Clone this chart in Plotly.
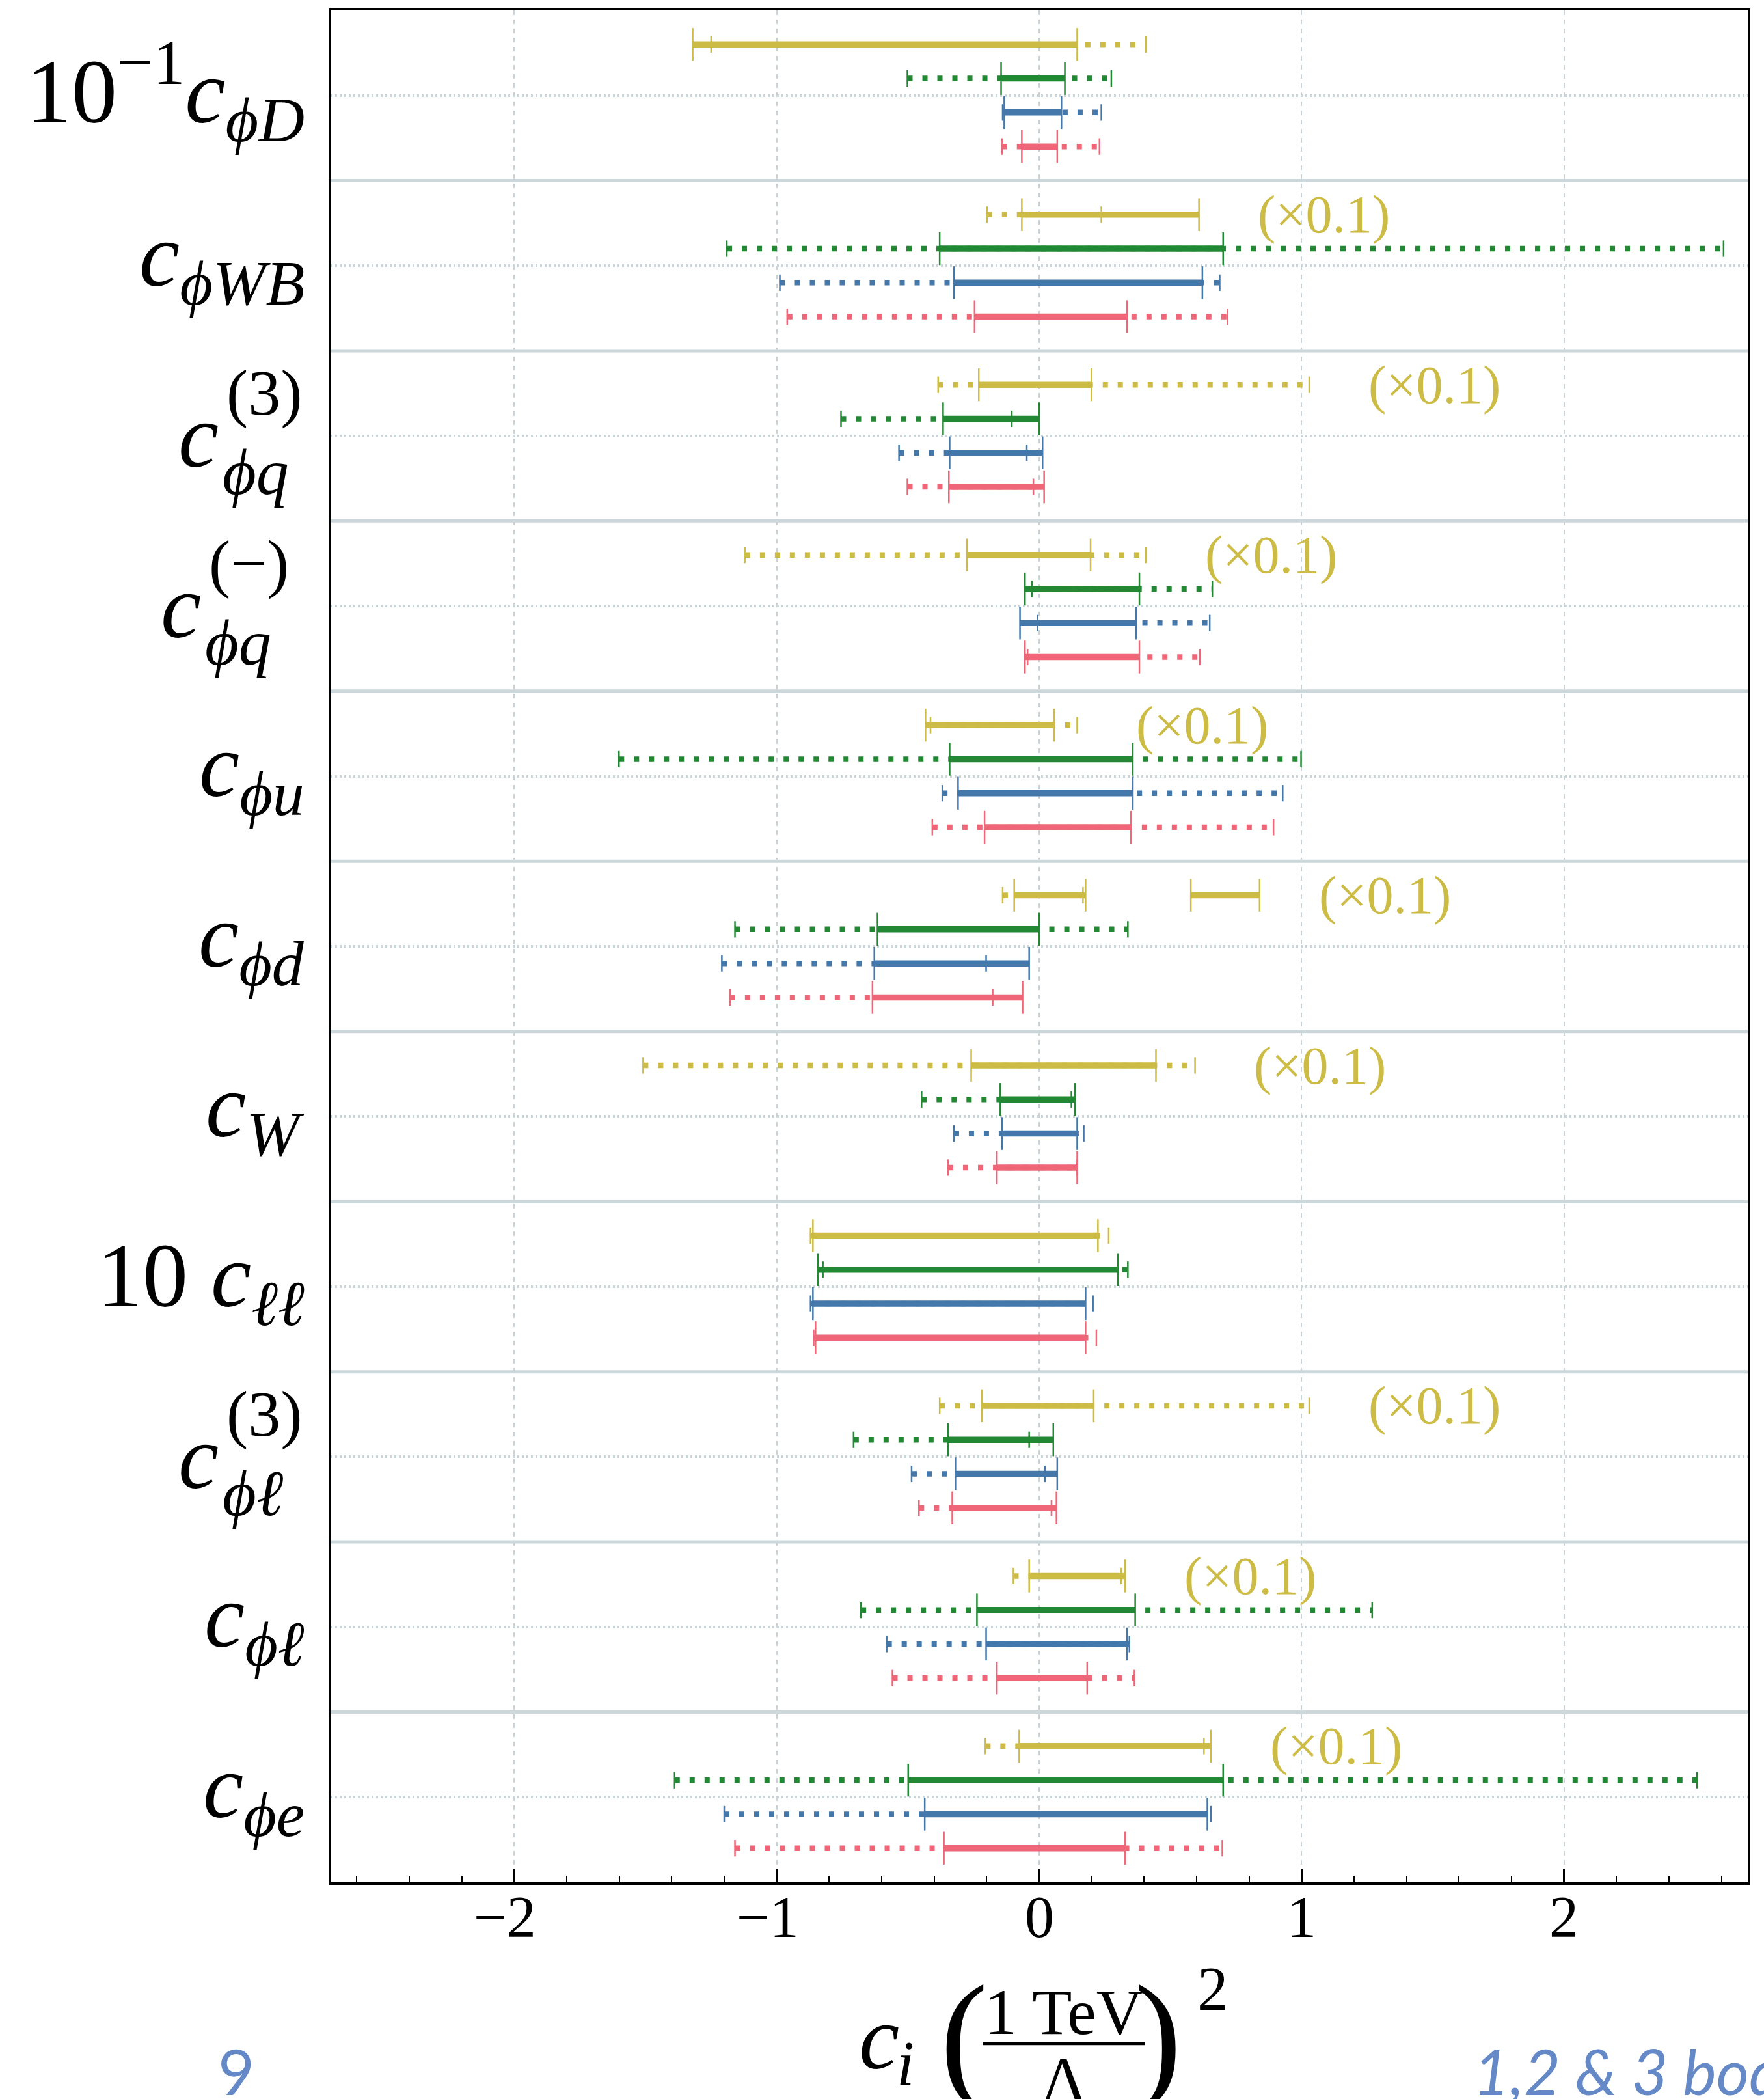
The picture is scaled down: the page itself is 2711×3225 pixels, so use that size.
import plotly.graph_objects as go

# ---------------------------------------------------------------- data
# Wilson coefficients, top to bottom
coefficients = ["cphiD", "cphiWB", "cphiq3", "cphiqm", "cphiu", "cphid",
                "cW", "cll", "cphil3", "cphil", "cphie"]

# gold series (x0.1 where flagged)
gold_solid_lo = [-1.320, -0.066, -0.230, -0.275, -0.433, -0.095, -0.259, -0.862, -0.218, -0.038, -0.076]
gold_solid_hi = [0.145, 0.609, 0.199, 0.196, 0.057, 0.177, 0.445, 0.224, 0.208, 0.328, 0.654]
gold_dot_lo = [-1.250, -0.199, -0.385, -1.121, -0.414, -0.139, -1.509, -0.871, -0.379, -0.098, -0.205]
gold_dot_hi = [0.407, 0.237, 1.029, 0.407, 0.145, 0.167, 0.594, 0.265, 1.029, 0.313, 0.628]
gold_extra_lo = [None, None, None, None, None, 0.578, None, None, None, None, None]
gold_extra_hi = [None, None, None, None, None, 0.840, None, None, None, None, None]
gold_scaled = [False, True, True, True, True, True, True, False, True, True, True]

# green series
green_solid_lo = [-0.145, -0.379, -0.366, -0.054, -0.341, -0.616, -0.148, -0.843, -0.347, -0.237, -0.499]
green_solid_hi = [0.098, 0.701, 0.000, 0.382, 0.357, 0.000, 0.136, 0.300, 0.054, 0.366, 0.701]
green_dot_lo = [-0.502, -1.190, -0.755, -0.028, -1.601, -1.159, -0.448, -0.824, -0.707, -0.679, -1.389]
green_dot_hi = [0.275, 2.608, -0.104, 0.660, 0.998, 0.338, 0.123, 0.338, -0.038, 1.269, 2.507]

# blue series
blue_solid_lo = [-0.133, -0.325, -0.341, -0.073, -0.309, -0.628, -0.142, -0.862, -0.319, -0.202, -0.436]
blue_solid_hi = [0.085, 0.622, 0.013, 0.369, 0.357, -0.038, 0.145, 0.177, 0.069, 0.335, 0.641]
blue_dot_lo = [-0.139, -0.988, -0.534, -0.006, -0.369, -1.209, -0.325, -0.871, -0.486, -0.581, -1.200]
blue_dot_hi = [0.237, 0.688, -0.047, 0.650, 0.928, -0.202, 0.170, 0.205, 0.022, 0.344, 0.654]

# red series
red_solid_lo = [-0.066, -0.246, -0.344, -0.054, -0.208, -0.635, -0.161, -0.852, -0.331, -0.161, -0.363]
red_solid_hi = [0.069, 0.335, 0.019, 0.382, 0.350, -0.063, 0.145, 0.177, 0.066, 0.183, 0.328]
red_dot_lo = [-0.142, -0.960, -0.502, -0.044, -0.407, -1.178, -0.347, -0.859, -0.458, -0.559, -1.159]
red_dot_hi = [0.230, 0.717, -0.022, 0.612, 0.893, -0.177, 0.145, 0.218, 0.047, 0.363, 0.698]

x_ticks = [-2, -1, 0, 1, 2]
x_ticktext = ["−2", "−1", "0", "1", "2"]

# y-axis labels: (main text, superscript above subscript, stacked subscript)
label_main = ["10<sup>−1</sup><i>c<sub>ϕD</sub></i>", "<i>c<sub>ϕWB</sub></i>", None, None,
              "<i>c<sub>ϕu</sub></i>", "<i>c<sub>ϕd</sub></i>", "<i>c<sub>W</sub></i>",
              "10 <i>c<sub>ℓℓ</sub></i>", None, "<i>c<sub>ϕℓ</sub></i>", "<i>c<sub>ϕe</sub></i>"]
label_sup = [None, None, "(3)", "(−)", None, None, None, None, "(3)", None, None]
label_sub = [None, None, "ϕq", "ϕq", None, None, None, None, "ϕℓ", None, None]

# ---------------------------------------------------------------- style
W, H = 2711, 3225
ML, MR, MT, MB = 508, 25, 14, 333
PW, PH = W - ML - MR, H - MT - MB
SERIF = "Liberation Serif, DejaVu Serif, serif"
COLORS = {"gold": "#CCBB44", "green": "#228833", "blue": "#4477AA", "red": "#EE6677"}
ROWS_PER_GROUP = 5
n = len(coefficients)


def px_x(p):
    return (p - ML) / PW


def px_y(p):
    return (H - MB - p) / PH


def row_y(g, k):
    return -(ROWS_PER_GROUP * g + k + 1)


series = [
    ("gold", gold_solid_lo, gold_solid_hi, gold_dot_lo, gold_dot_hi),
    ("green", green_solid_lo, green_solid_hi, green_dot_lo, green_dot_hi),
    ("blue", blue_solid_lo, blue_solid_hi, blue_dot_lo, blue_dot_hi),
    ("red", red_solid_lo, red_solid_hi, red_dot_lo, red_dot_hi),
]

fig = go.Figure()

# group separators (thick pale lines), drawn as a trace so they sit above the grid
sep_x, sep_y = [], []
for g in range(1, n):
    sep_x += [-2.7, 2.7, None]
    sep_y += [-ROWS_PER_GROUP * g, -ROWS_PER_GROUP * g, None]
fig.add_trace(go.Scatter(x=sep_x, y=sep_y, mode="lines",
                         line=dict(color="#ccd7db", width=5),
                         hoverinfo="skip", showlegend=False, cliponaxis=True))


def add_intervals(los, his, ys, color, solid):
    xs, yy, cx, cy = [], [], [], []
    for lo, hi, y in zip(los, his, ys):
        if lo is None or hi is None:
            continue
        xs += [lo, hi, None]
        yy += [y, y, None]
        cx += [lo, hi]
        cy += [y, y]
    if solid:
        line = dict(color=color, width=9.5)
        cap = 36
    else:
        line = dict(color=color, width=8.5, dash="8px,15px")
        cap = 18
    fig.add_trace(go.Scatter(x=xs, y=yy, mode="lines", line=line,
                             hoverinfo="skip", showlegend=False))
    fig.add_trace(go.Scatter(x=cx, y=cy, mode="markers",
                             marker=dict(symbol="line-ns", size=cap,
                                         line=dict(color=color, width=2.5)),
                             hoverinfo="skip", showlegend=False))


for k, (name, s_lo, s_hi, d_lo, d_hi) in enumerate(series):
    ys = [row_y(g, k) for g in range(n)]
    add_intervals(d_lo, d_hi, ys, COLORS[name], solid=False)
    add_intervals(s_lo, s_hi, ys, COLORS[name], solid=True)
    if name == "gold":
        add_intervals(gold_extra_lo, gold_extra_hi, ys, COLORS[name], solid=True)

shapes = []
annotations = []

# "(x0.1)" tags next to the rescaled gold intervals
for g in range(n):
    if not gold_scaled[g]:
        continue
    right = max(v for v in (gold_solid_hi[g], gold_dot_hi[g], gold_extra_hi[g]) if v is not None)
    annotations.append(dict(x=right + 0.22, y=row_y(g, 0), xref="x", yref="y",
                            text="(×0.1)", showarrow=False, xanchor="left", yanchor="middle",
                            font=dict(family=SERIF, size=82, color=COLORS["gold"])))

# x tick labels
for v, t in zip(x_ticks, x_ticktext):
    annotations.append(dict(x=v, y=px_y(2946), xref="x", yref="paper", text=t,
                            showarrow=False, xanchor="center", yanchor="middle",
                            xshift=-14 if t.startswith("−") else 0,
                            font=dict(family=SERIF, size=90, color="black")))

# coefficient labels
for g in range(n):
    yc = -(ROWS_PER_GROUP * g + 2.5)
    if label_main[g] is not None:
        annotations.append(dict(x=px_x(470), y=yc, xref="paper", yref="y",
                                text=label_main[g], showarrow=False,
                                xanchor="right", yanchor="middle", yshift=7,
                                font=dict(family=SERIF, size=140, color="black")))
    else:
        c_right = 311 if label_sup[g] == "(−)" else 338
        annotations.append(dict(x=px_x(c_right), y=yc, xref="paper", yref="y",
                                text="<i>c</i>", showarrow=False,
                                xanchor="right", yanchor="middle", yshift=0,
                                font=dict(family=SERIF, size=140, color="black")))
        annotations.append(dict(x=px_x(c_right + 8), y=yc, xref="paper", yref="y",
                                text=label_sup[g], showarrow=False,
                                xanchor="left", yanchor="middle", yshift=66,
                                font=dict(family=SERIF, size=100, color="black")))
        annotations.append(dict(x=px_x(c_right + 2), y=yc, xref="paper", yref="y",
                                text="<i>" + label_sub[g] + "</i>", showarrow=False,
                                xanchor="left", yanchor="middle", yshift=-56,
                                font=dict(family=SERIF, size=100, color="black")))


# x-axis title: c_i (1 TeV / Lambda)^2
def title_text(txt, x, y, size, anchor="center", italic=False):
    annotations.append(dict(x=px_x(x), y=px_y(y), xref="paper", yref="paper",
                            text=("<i>%s</i>" % txt) if italic else txt,
                            showarrow=False, xanchor=anchor, yanchor="middle",
                            font=dict(family=SERIF, size=size, color="black")))


title_text("c", 1318, 3131, 140, "left", italic=True)
title_text("i", 1376, 3170, 98, "left", italic=True)
title_text("(", 1443, 3128, 220, "left")
title_text(")", 1818, 3128, 220, "right")
title_text("1 TeV", 1635, 3092, 100)
title_text("Λ", 1635, 3196, 100)
title_text("2", 1838, 3056, 95, "left")
shapes.append(dict(type="line", xref="paper", yref="paper",
                   x0=px_x(1510), x1=px_x(1760), y0=px_y(3140), y1=px_y(3140),
                   line=dict(color="black", width=5)))

# footer text
FOOT = "#6489c6"
annotations.append(dict(x=px_x(363), y=px_y(3182), xref="paper", yref="paper", text="9",
                        showarrow=False, xanchor="center", yanchor="middle",
                        font=dict(family="Lato, Liberation Sans, sans-serif", size=97,
                                  color=FOOT)))
annotations.append(dict(x=px_x(2262), y=px_y(3182), xref="paper", yref="paper",
                        text="<i>1,2 &amp; 3 body</i>",
                        showarrow=False, xanchor="left", yanchor="middle",
                        font=dict(family="Lato, Liberation Sans, sans-serif", size=97,
                                  color=FOOT)))

fig.update_layout(
    width=W, height=H,
    margin=dict(l=ML, r=MR, t=MT, b=MB, pad=0),
    paper_bgcolor="white", plot_bgcolor="white",
    showlegend=False,
    shapes=shapes,
    annotations=annotations,
    xaxis=dict(
        range=[-2.7, 2.7], tickmode="array", tickvals=x_ticks,
        showticklabels=False,
        ticks="inside", ticklen=20, tickwidth=2.5, tickcolor="black",
        showline=True, linewidth=4, linecolor="black", mirror=True,
        showgrid=True, gridcolor="#c8d3d7", gridwidth=2, griddash="7px,7px",
        zeroline=False,
        minor=dict(dtick=0.2, tick0=0, ticks="inside", ticklen=10, tickwidth=2,
                   tickcolor="black", showgrid=False),
    ),
    yaxis=dict(
        range=[-ROWS_PER_GROUP * n, 0],
        tickmode="array", tickvals=[-(ROWS_PER_GROUP * g + 2.5) for g in range(n)],
        showticklabels=False, ticks="",
        showgrid=True, gridcolor="#cad5d9", gridwidth=3.5, griddash="3px,4px",
        showline=True, linewidth=2.5, linecolor="black", mirror=True,
        zeroline=False,
    ),
)

fig.write_html("out.html")
